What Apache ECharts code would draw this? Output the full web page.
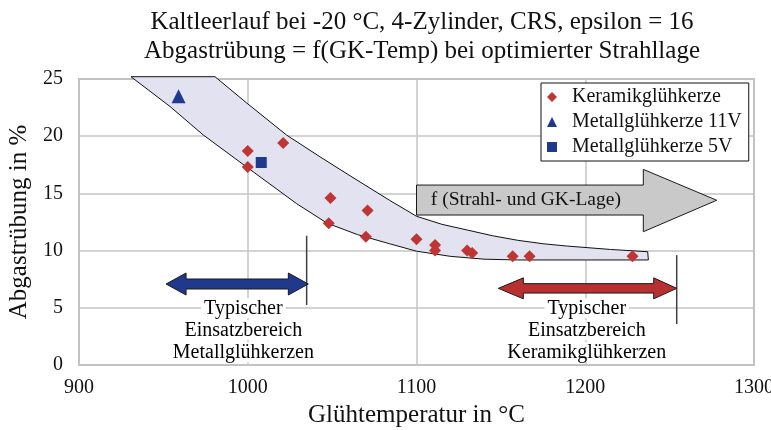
<!DOCTYPE html>
<html>
<head>
<meta charset="utf-8">
<script src="https://cdn.jsdelivr.net/npm/echarts@6/dist/echarts.min.js"></script>
<style>
  html, body { margin: 0; padding: 0; background: #fff; }
  #chart { width: 771px; height: 430px; }
</style>
</head>
<body>
<div id="chart"></div>
<script>
// Glow-plug temperature (°C) vs. exhaust opacity (%)
const keramik = [
  [1000, 18.7], [1000, 17.3], [1021, 19.4], [1049, 14.6], [1048, 12.4],
  [1071, 13.5], [1070, 11.2], [1100, 11.0], [1111, 10.5], [1111, 10.0],
  [1130, 10.0], [1133, 9.8], [1157, 9.5], [1167, 9.5], [1228, 9.5]
];
const metall11V = [[959, 23.5]];
const metall5V = [[1008, 17.7]];

const xTicks = [900, 1000, 1100, 1200, 1300];
const yTicks = [0, 5, 10, 15, 20, 25];

// Scatter band outline (upper and lower edges, left to right)
const bandUpper = [
  [980.6, 25.2], [999.4, 22.9], [1023, 20.1], [1042.8, 18.2], [1060, 16.6],
  [1084, 14.4], [1100, 13.0], [1115, 12.3], [1130, 11.8], [1145, 11.3],
  [1160, 10.9], [1175, 10.6], [1189, 10.4], [1215, 10.1], [1237, 9.9]
];
const bandLower = [
  [930.8, 25.2], [953.9, 22.6], [973.7, 20.1], [999.4, 17.3], [1029, 14.1],
  [1047, 12.4], [1065, 11.4], [1084, 10.6], [1100, 9.95], [1120, 9.5],
  [1140, 9.25], [1160, 9.18], [1237.4, 9.18]
];

// Annotation anchors (data coordinates)
const trendArrow = { x0: 1100, x1: 1234.4, tip: 1277.9, yMid: 14.4, bodyTop: 15.73, bodyBot: 13.11, headTop: 17.1, headBot: 11.65 };
const metallRange = { left: 951.6, right: 1035.9, y: 7.08, markX: 1034.9, markTop: 11.3, markBot: 5.24, labelX: 997.4, labelY: 4.96 };
const keramikRange = { left: 1148.5, right: 1254.2, y: 6.7, markX: 1254.2, markTop: 9.6, markBot: 3.58, labelX: 1200.9, labelY: 4.96 };

const FONT = "'Liberation Serif', 'Times New Roman', serif";
const RED = '#be3533';
const BLUE = '#1f3a8c';

const chart = echarts.init(document.getElementById('chart'));

function doubleArrow(api, r, hl, hr, hh, sh, color) {
  const L = api.coord([r.left, r.y]);
  const R = api.coord([r.right, r.y]);
  const y = L[1];
  const xl = L[0], xr = R[0];
  return {
    type: 'polygon',
    shape: { points: [
      [xl, y], [xl + hl, y - hh], [xl + hl, y - sh], [xr - hr, y - sh], [xr - hr, y - hh],
      [xr, y], [xr - hr, y + hh], [xr - hr, y + sh], [xl + hl, y + sh], [xl + hl, y + hh]
    ] },
    style: { fill: color, stroke: '#1a1a1a', lineWidth: 1 }
  };
}

function marker(api, r) {
  const a = api.coord([r.markX, r.markTop]);
  const b = api.coord([r.markX, r.markBot]);
  return { type: 'line', shape: { x1: a[0], y1: a[1], x2: b[0], y2: b[1] }, style: { stroke: '#404040', lineWidth: 1.5 } };
}

function rangeLabel(api, r, lines) {
  const p = api.coord([r.labelX, r.labelY]);
  return {
    type: 'text',
    x: p[0], y: p[1] - 11,
    style: {
      text: lines.map(l => '{a|' + l + '}').join('\n'),
      align: 'center', verticalAlign: 'top',
      rich: { a: { fontFamily: FONT, fontSize: 20, lineHeight: 22, color: '#111', backgroundColor: '#fff', padding: [0, 3] } }
    }
  };
}

const plain = v => String(v);

const option = {
  animation: false,
  title: {
    text: 'Kaltleerlauf bei -20 °C, 4-Zylinder, CRS, epsilon = 16\nAbgastrübung = f(GK-Temp) bei optimierter Strahllage',
    left: 417, top: 3, textAlign: 'center',
    textStyle: { fontFamily: FONT, fontSize: 25, fontWeight: 'normal', lineHeight: 29, color: '#111' }
  },
  grid: {
    left: 79, right: 17, top: 79, bottom: 65, outerBoundsMode: 'none', containLabel: false,
    show: true, borderColor: '#bdbdbd', borderWidth: 2
  },
  xAxis: {
    type: 'value', min: xTicks[0], max: xTicks[xTicks.length - 1], interval: 100,
    name: 'Glühtemperatur in °C', nameLocation: 'middle', nameGap: 37,
    nameTextStyle: { fontFamily: FONT, fontSize: 25, color: '#111' },
    axisLine: { show: false }, axisTick: { show: false },
    axisLabel: { fontFamily: FONT, fontSize: 20, color: '#111', margin: 13, formatter: plain },
    splitLine: { show: true, lineStyle: { color: '#c4c4c4', width: 1.5 } }
  },
  yAxis: {
    type: 'value', min: yTicks[0], max: yTicks[yTicks.length - 1], interval: 5,
    name: 'Abgastrübung in %', nameLocation: 'middle', nameGap: 47,
    nameTextStyle: { fontFamily: FONT, fontSize: 25, color: '#111' },
    axisLine: { show: false }, axisTick: { show: false },
    axisLabel: { fontFamily: FONT, fontSize: 20, color: '#111', margin: 16, formatter: plain },
    splitLine: { show: true, lineStyle: { color: '#c4c4c4', width: 1.5 } }
  },
  legend: {
    orient: 'vertical', left: 541, top: 83,
    backgroundColor: '#fff', borderColor: '#111', borderWidth: 1,
    padding: [3, 7, 3, 6], itemGap: 3, itemWidth: 10, itemHeight: 10,
    textStyle: { fontFamily: FONT, fontSize: 20, color: '#111', lineHeight: 22, padding: [0, 0, 0, 10] },
    data: [
      { name: 'Keramikglühkerze', icon: 'diamond' },
      { name: 'Metallglühkerze 11V', icon: 'triangle' },
      { name: 'Metallglühkerze 5V', icon: 'rect' }
    ],
    z: 20
  },
  series: [
    {
      name: 'band', type: 'custom', z: 1, clip: false, silent: true,
      data: [[1000, 15]],
      renderItem: function (params, api) {
        const pts = bandLower.concat(bandUpper.slice().reverse()).map(p => api.coord(p));
        return { type: 'polygon', shape: { points: pts }, style: { fill: '#e2e2f0', stroke: '#111', lineWidth: 1 } };
      }
    },
    {
      name: 'annotations', type: 'custom', z: 2, clip: false, silent: true,
      data: [[1000, 15]],
      renderItem: function (params, api) {
        const t = trendArrow;
        const arrowPts = [
          [t.x0, t.bodyTop], [t.x1, t.bodyTop], [t.x1, t.headTop], [t.tip, t.yMid],
          [t.x1, t.headBot], [t.x1, t.bodyBot], [t.x0, t.bodyBot]
        ].map(p => api.coord(p));
        const textPos = api.coord([t.x0 + 8.5, t.yMid]);
        return {
          type: 'group',
          children: [
            { type: 'polygon', shape: { points: arrowPts }, style: { fill: '#c9c9c9', stroke: '#1a1a1a', lineWidth: 1 } },
            { type: 'text', x: textPos[0], y: textPos[1],
              style: { text: 'f (Strahl- und GK-Lage)', fontFamily: FONT, fontSize: 19.5, fill: '#111', align: 'left', verticalAlign: 'middle' } },
            marker(api, metallRange),
            marker(api, keramikRange),
            doubleArrow(api, metallRange, 20, 20, 11, 5, BLUE),
            doubleArrow(api, keramikRange, 25, 23, 10.5, 4.7, '#b8302f'),
            rangeLabel(api, metallRange, ['Typischer', 'Einsatzbereich', 'Metallglühkerzen']),
            rangeLabel(api, keramikRange, ['Typischer', 'Einsatzbereich', 'Keramikglühkerzen'])
          ]
        };
      }
    },
    {
      name: 'Keramikglühkerze', type: 'scatter', z: 5, symbol: 'diamond', symbolSize: 12,
      itemStyle: { color: RED, opacity: 1 }, data: keramik
    },
    {
      name: 'Metallglühkerze 11V', type: 'scatter', z: 5, symbol: 'triangle', symbolSize: 14,
      itemStyle: { color: BLUE, opacity: 1 }, data: metall11V
    },
    {
      name: 'Metallglühkerze 5V', type: 'scatter', z: 5, symbol: 'rect', symbolSize: 11,
      itemStyle: { color: BLUE, opacity: 1 }, data: metall5V
    }
  ]
};

chart.setOption(option);
</script>
</body>
</html>
